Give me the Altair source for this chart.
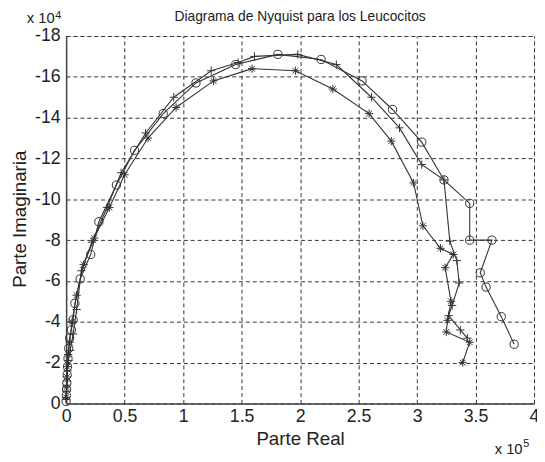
import altair as alt
import pandas as pd

# Circle series (o)
re_o = [0.0, 0.002, 0.004, 0.006, 0.009, 0.012, 0.016, 0.022, 0.03, 0.045, 0.06, 0.075, 0.12, 0.21, 0.28, 0.43,
        0.585, 0.83, 1.11, 1.45, 1.81, 2.18, 2.53, 2.79, 3.04, 3.23, 3.45, 3.45, 3.64, 3.54, 3.59, 3.72, 3.83]
im_o = [-0.1, -0.4, -0.7, -1.0, -1.4, -1.8, -2.2, -2.7, -3.2, -3.6, -4.1, -4.9, -6.1, -7.3, -8.9, -10.7,
        -12.4, -14.2, -15.7, -16.6, -17.1, -16.85, -15.8, -14.4, -12.8, -10.95, -9.8, -8.0, -8.0, -6.4, -5.7, -4.25, -2.9]

# Plus series (+)
re_p = [0.0, 0.003, 0.007, 0.012, 0.02, 0.035, 0.06, 0.09, 0.13, 0.22, 0.35, 0.47, 0.68, 0.92, 1.24, 1.47,
        1.61, 1.98, 2.31, 2.61, 2.85, 3.04, 3.23, 3.28, 3.34, 3.36, 3.30, 3.27, 3.37, 3.43]
im_p = [-0.2, -0.6, -1.1, -1.6, -2.1, -2.6, -3.4, -4.6, -6.5, -7.9, -9.6, -11.3, -13.25, -15.0, -16.3, -16.7,
        -17.0, -17.1, -16.6, -15.0, -13.5, -11.7, -10.95, -7.95, -7.0, -5.9, -4.8, -4.3, -3.6, -3.2]

# Asterisk series (*)
re_a = [0.0, 0.003, 0.006, 0.01, 0.018, 0.03, 0.05, 0.09, 0.15, 0.24, 0.37, 0.50, 0.70, 0.94, 1.26, 1.59,
        1.96, 2.28, 2.59, 2.78, 2.97, 3.05, 3.20, 3.31, 3.24, 3.29, 3.26, 3.25, 3.45, 3.39]
im_a = [-0.3, -0.8, -1.3, -1.8, -2.4, -3.0, -4.0, -5.3, -6.8, -8.1, -9.6, -11.2, -13.0, -14.5, -15.8, -16.4,
        -16.3, -15.4, -14.2, -12.85, -10.8, -8.7, -7.6, -7.3, -6.65, -5.0, -4.07, -3.5, -3.0, -2.0]

x_ticks = [0, 0.5, 1, 1.5, 2, 2.5, 3, 3.5, 4]
y_ticks = [-18, -16, -14, -12, -10, -8, -6, -4, -2, 0]

title_text = "Diagrama de Nyquist para los Leucocitos"
x_title = "Parte Real"
y_title = "Parte Imaginaria"

rows = []
for name, rx, iy in (("o", re_o, im_o), ("p", re_p, im_p), ("a", re_a, im_a)):
    for k, (a, b) in enumerate(zip(rx, iy)):
        rows.append({"s": name, "i": k, "re": a, "im": b})
df = pd.DataFrame(rows)

FONT = "Liberation Sans, Arial, sans-serif"
INK = "#222222"
LINE = "#333333"
PLUS = "M-1,0L1,0M0,-1L0,1"
AST = "M-1,0L1,0M0,-1L0,1M-0.7,-0.7L0.7,0.7M-0.7,0.7L0.7,-0.7"

W, H = 475, 373

base = alt.Chart(df).encode(
    x=alt.X("re:Q", scale=alt.Scale(domain=[0, 4], nice=False, zero=False),
            axis=alt.Axis(values=x_ticks, format="~g", title=None, labelFlush=False,
                          labelFontSize=18, labelFont=FONT, labelColor=INK, labelPadding=4,
                          ticks=False, grid=True, gridDash=[4, 3], gridColor="#333333",
                          gridOpacity=1, domainColor="#444444", domainWidth=1.5)),
    y=alt.Y("im:Q", scale=alt.Scale(domain=[-18, 0], reverse=True, nice=False, zero=False),
            axis=alt.Axis(values=y_ticks, title=None, labelFlush=False,
                          labelExpr="datum.value == 0 ? '0' : '-' + abs(datum.value)",
                          labelFontSize=18, labelFont=FONT, labelColor=INK, labelPadding=6,
                          ticks=False, grid=True, gridDash=[4, 3], gridColor="#333333",
                          gridOpacity=1, domainColor="#444444", domainWidth=1.5)),
)

lines = base.mark_line(color=LINE, strokeWidth=1.1).encode(detail="s:N", order="i:Q")
points = base.mark_point(filled=False, color=LINE, strokeWidth=1, size=70, opacity=1).encode(
    shape=alt.Shape("s:N", scale=alt.Scale(domain=["o", "p", "a"], range=["circle", PLUS, AST]), legend=None)
)


def label(text, x, y, size, align="left", baseline="alphabetic", angle=0):
    return alt.Chart(pd.DataFrame({"t": [text]})).mark_text(
        align=align, baseline=baseline, fontSize=size, font=FONT, color=INK, angle=angle
    ).encode(x=alt.value(x), y=alt.value(y), text="t:N")


texts = [
    label(title_text, W / 2, -15, 14, align="center"),
    label(x_title, 238, 415, 19, align="center"),
    label(y_title, -47, 186, 19, align="center", baseline="middle", angle=270),
    label("x 10", -40, -13, 15),
    label("4", -11, -17, 11),
    label("x 10", 435, 424, 15),
    label("5", 464, 417, 11),
]

chart = alt.layer(lines, points, *texts).properties(
    width=W, height=H,
    autosize=alt.AutoSizeParams(type="none"),
    padding={"left": 59, "top": 25, "right": 3, "bottom": 54},
).configure_view(stroke="#444444", strokeWidth=1.5).configure(background="white")

chart.save("out.html", embed_options={"renderer": "svg", "actions": False})
